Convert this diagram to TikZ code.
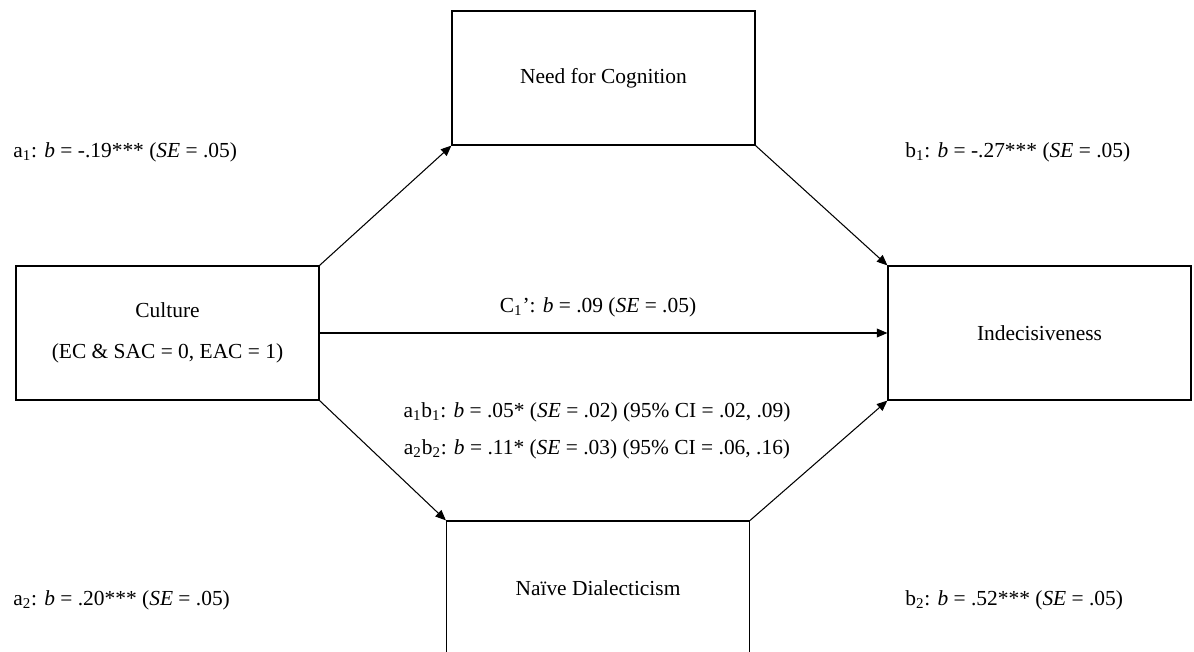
\documentclass[tikz,border=0pt]{standalone}
\usepackage{fontspec}
\setmainfont{Liberation Serif}
\usetikzlibrary{arrows.meta}
\tikzset{
	var/.style={
			draw, line width=0.7pt, inner sep=0pt, align=center,
			minimum width=6.06cm, minimum height=2.68cm},
	effect/.style={anchor=west, inner sep=0pt},
	path/.style={line width=0.6pt, -{Triangle[length=6pt, width=5pt]}}
}

\begin{document}
\begin{tikzpicture}[x=0.02cm, y=-0.02cm, every node/.style={font=\fontsize{12.2}{14}\selectfont}]
		\useasboundingbox (0, 0) rectangle (1194, 652);

		\node [var] (culture)	at (167.5, 333)	{Culture\\[9pt](EC \& SAC = 0, EAC = 1)};
		\node [var] (nfc)		at (603.5, 78)	{Need for Cognition};
		\node [var] (indec)		at (1039.5, 333)	{Indecisiveness};
		\node [var] (naive)		at (598, 588)	{Naïve Dialecticism};

		\draw [path]	(culture.north east) to (nfc.south west);
		\draw [path]	(nfc.south east) to (indec.north west);
		\draw [path]	(culture.east) to (indec.west);
		\draw [path]	(culture.south east) to (naive.north west);
		\draw [path]	(naive.north east) to (indec.south west);

		\node [effect] (a1) at (13, 152)	{a\textsubscript{1}: \textit{b} = -.19*** (\textit{SE} = .05)};
		\node [effect] (b1) at (905, 152)	{b\textsubscript{1}: \textit{b} = -.27*** (\textit{SE} = .05)};
		\node [effect] (a2) at (13, 600)	{a\textsubscript{2}: \textit{b} = .20*** (\textit{SE} = .05)};
		\node [effect] (b2) at (905, 600)	{b\textsubscript{2}: \textit{b} = .52*** (\textit{SE} = .05)};

		\node (c1)		at (598, 307)	{C\textsubscript{1}’: \textit{b} = .09 (\textit{SE} = .05)};
		\node (a1b1)	at (597, 412)	{a\textsubscript{1}b\textsubscript{1}: \textit{b} = .05* (\textit{SE} = .02) (95\% CI = .02, .09)};
		\node (a2b2)	at (597, 449)	{a\textsubscript{2}b\textsubscript{2}: \textit{b} = .11* (\textit{SE} = .03) (95\% CI = .06, .16)};
	\end{tikzpicture}
\end{document}
